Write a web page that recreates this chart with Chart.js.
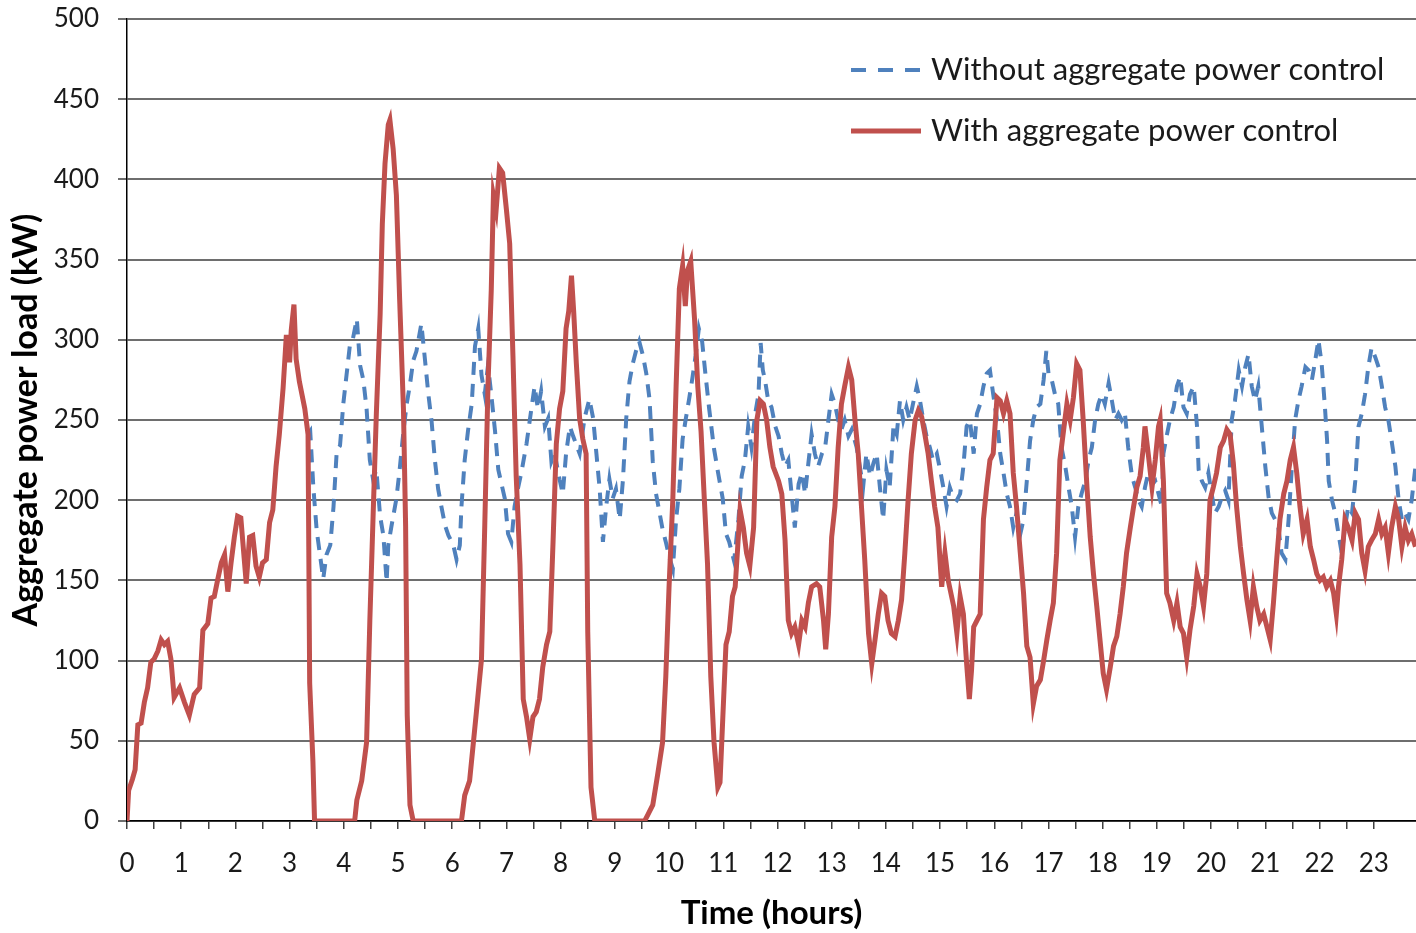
<!DOCTYPE html>
<html>
<head>
<meta charset="utf-8">
<script src="https://cdn.jsdelivr.net/npm/chart.js@4.4.1/dist/chart.umd.min.js"></script>
<style>
  html, body { margin: 0; padding: 0; background: #fff; }
  #wrap { width: 1416px; height: 933px; }
</style>
</head>
<body>
<div id="wrap"><canvas id="chart" width="1416" height="933"></canvas></div>
<script>
// ====================== DATA ======================
// [hour, kW]
const withControl = [
  [0,0],[0.03,19],[0.1,26],[0.15,32],[0.2,60],[0.26,61],[0.32,74],[0.38,83],[0.44,99],[0.5,101],[0.57,106],[0.63,113],[0.69,110],[0.75,112],[0.81,101],[0.87,77],[0.97,83],[1.06,74],[1.15,66],[1.24,79],[1.34,83],[1.4,119],[1.49,123],[1.55,139],[1.61,140],[1.67,150],[1.74,161],[1.8,166],[1.86,143],[1.92,161],[1.98,177],[2.04,190],[2.1,189],[2.2,148],[2.26,177],[2.32,178],[2.38,159],[2.44,152],[2.5,161],[2.57,163],[2.63,186],[2.69,194],[2.75,221],[2.81,241],[2.88,270],[2.94,303],[3.0,286],[3.03,306],[3.08,322],[3.12,288],[3.18,274],[3.28,257],[3.34,241],[3.37,86],[3.43,37],[3.46,0],
  [4.2,0],[4.24,13],[4.33,25],[4.42,49],[4.48,125],[4.54,190],[4.6,254],[4.67,316],[4.71,372],[4.76,410],[4.82,434],[4.85,437],[4.91,419],[4.97,390],[5.03,325],[5.1,257],[5.14,184],[5.17,66],[5.22,10],[5.28,0],
  [6.17,0],[6.23,16],[6.32,25],[6.44,66],[6.54,101],[6.6,184],[6.66,272],[6.72,331],[6.76,390],[6.81,381],[6.87,407],[6.93,404],[7.0,381],[7.06,360],
  [7.12,290],[7.18,215],[7.25,160],[7.31,76],[7.37,65],[7.43,51],[7.49,65],[7.55,68],[7.61,76],[7.67,96],[7.74,110],[7.8,118],[7.86,174],[7.92,235],[7.98,257],[8.04,268],[8.1,307],[8.15,318],[8.2,340],[8.24,318],[8.29,285],[8.35,251],[8.41,238],[8.47,229],[8.5,118],[8.56,21],[8.63,0],
  [9.55,0],[9.61,4],[9.7,10],[9.79,29],[9.88,49],[9.94,90],[10.0,146],[10.07,201],[10.13,271],[10.19,332],[10.25,346],[10.3,321],[10.34,343],[10.4,349],[10.47,313],[10.53,271],[10.59,243],[10.65,201],[10.71,160],[10.77,90],[10.83,49],[10.9,21],[10.94,24],[10.99,63],[11.05,110],[11.11,118],[11.17,140],
  [11.22,146],[11.31,194],[11.37,183],[11.43,167],[11.49,159],[11.56,183],[11.62,250],[11.68,262],[11.74,260],[11.8,250],[11.86,233],[11.92,221],[12.02,212],[12.08,204],[12.14,175],[12.2,125],[12.26,117],[12.32,121],[12.39,110],[12.45,125],[12.51,121],[12.57,136],[12.63,146],[12.72,148],[12.78,146],[12.85,125],[12.89,107],[12.94,129],[13.0,177],[13.06,196],[13.12,233],[13.18,260],[13.24,271],[13.31,283],[13.37,275],[13.43,250],[13.49,229],[13.55,196],[13.61,163],[13.68,117],[13.74,98],[13.8,113],[13.86,129],[13.92,142],[13.98,140],[14.04,125],[14.1,117],[14.17,115],[14.23,125],[14.29,138],[14.35,167],[14.41,200],[14.47,229],[14.54,250],[14.6,256],[14.66,252],[14.72,241],[14.78,229],[14.84,212],[14.9,196],[14.96,183],[15.03,146],[15.09,167],[15.15,150],
  [15.25,134],[15.31,117],[15.37,140],[15.43,129],[15.49,98],[15.54,76],[15.58,94],[15.62,121],[15.68,125],[15.74,129],[15.8,188],[15.86,208],[15.92,225],[15.98,229],[16.05,264],[16.11,262],[16.17,254],[16.23,262],[16.29,254],[16.35,217],[16.41,196],[16.48,167],[16.54,142],[16.6,109],[16.66,102],[16.72,73],[16.78,84],[16.85,88],[16.91,100],[16.97,113],[17.03,125],[17.09,136],[17.15,167],[17.21,225],[17.28,244],[17.34,260],[17.4,250],[17.46,264],[17.52,285],[17.58,281],[17.64,250],[17.71,208],[17.77,177],[17.83,154],[17.89,134],[17.95,113],[18.01,92],[18.07,82],[18.14,96],[18.2,109],[18.26,115],[18.32,129],[18.38,146],[18.44,167],[18.51,183],[18.57,196],[18.63,208],[18.69,215],[18.75,233],[18.78,246],[18.84,229],[18.91,208],[18.97,225],[19.03,246],[19.06,250],[19.12,212],
  [19.18,142],[19.24,136],[19.31,125],[19.37,136],[19.43,121],[19.49,117],[19.55,102],[19.61,119],[19.68,134],[19.74,154],[19.8,146],[19.86,134],[19.92,154],[19.98,200],[20.04,208],[20.1,217],[20.17,233],[20.23,237],[20.29,244],[20.35,241],[20.41,223],[20.47,196],[20.54,171],[20.6,154],[20.66,138],[20.72,125],[20.78,146],[20.84,134],[20.9,125],[20.97,129],[21.03,121],[21.09,113],[21.15,136],[21.21,163],[21.27,188],[21.34,204],[21.4,212],[21.46,225],[21.52,233],[21.58,217],[21.64,196],[21.7,179],[21.77,188],[21.83,171],[21.89,163],[21.95,154],[22.01,150],[22.07,152],[22.13,146],[22.2,150],[22.26,142],[22.31,129],[22.35,146],[22.41,163],[22.47,188],[22.53,183],[22.6,175],[22.66,192],[22.72,188],[22.78,167],[22.84,156],[22.9,171],[22.96,175],[23.03,179],[23.09,188],[23.15,179],[23.21,183],[23.27,167],[23.33,183],[23.4,196],[23.46,188],[23.52,171],[23.58,183],[23.64,175],[23.7,179],[23.77,171]
];

// before ~3.3 h both curves coincide (hidden under the red one)
const withoutControl = [
  [3.34,241],[3.38,243],[3.44,207],[3.5,181],[3.56,166],[3.62,151],[3.68,166],[3.75,172],[3.81,196],[3.87,231],[3.93,234],[3.99,260],[4.05,278],[4.11,296],[4.17,301],[4.24,313],[4.3,284],[4.36,275],[4.42,257],[4.48,225],[4.54,213],[4.6,219],[4.67,190],[4.73,178],[4.79,149],[4.82,172],[4.88,184],[4.97,201],[5.03,219],[5.1,243],[5.16,260],[5.22,272],[5.28,287],[5.34,293],[5.43,310],[5.49,290],[5.56,266],[5.62,249],[5.68,225],[5.74,207],[5.8,196],[5.87,184],[5.93,178],[6.02,172],[6.08,163],[6.14,172],[6.17,196],[6.23,225],[6.29,243],[6.36,260],[6.42,296],[6.48,307],[6.54,278],[6.6,266],[6.66,284],[6.72,266],[6.79,243],[6.85,219],
  [6.97,201],[7.03,179],[7.09,174],[7.15,196],[7.21,207],[7.28,218],[7.37,235],[7.46,257],[7.52,271],[7.58,257],[7.64,268],[7.71,246],[7.77,251],[7.83,224],[7.89,229],[7.98,213],[8.04,204],[8.1,229],[8.17,246],[8.23,240],[8.35,229],[8.44,251],[8.53,263],[8.6,251],[8.66,229],[8.72,207],[8.78,174],[8.84,196],[8.9,213],[8.96,201],[9.02,207],[9.09,188],[9.15,213],[9.21,251],[9.27,274],[9.33,285],[9.39,293],[9.45,299],[9.52,290],[9.58,279],[9.64,263],[9.7,224],[9.76,204],[9.82,193],[9.88,182],[9.94,174],[10.0,165],[10.07,157],[10.13,188],[10.19,207],[10.25,238],[10.31,251],[10.37,263],[10.43,276],[10.49,290],[10.55,307],[10.61,299],[10.67,279],[10.74,257],[10.83,232],[10.9,218],[10.99,201],[11.05,179],[11.11,174],[11.2,162],
  [11.28,188],[11.34,215],[11.4,225],[11.46,246],[11.52,233],[11.59,254],[11.65,266],[11.69,298],[11.73,281],[11.77,275],[11.83,262],[11.89,258],[11.96,246],[12.02,240],[12.08,229],[12.14,221],[12.2,225],[12.26,204],[12.32,183],[12.39,210],[12.45,217],[12.51,204],[12.57,223],[12.63,241],[12.69,229],[12.75,221],[12.82,229],[12.88,233],[12.94,250],[13.0,266],[13.06,260],[13.12,250],[13.18,244],[13.24,250],[13.31,240],[13.37,244],[13.46,233],[13.52,221],[13.58,208],[13.64,229],[13.71,215],[13.77,223],[13.83,229],[13.89,208],[13.95,188],[14.01,219],[14.07,208],[14.14,246],[14.2,241],[14.26,262],[14.32,250],[14.38,258],[14.44,250],[14.5,260],[14.57,271],[14.63,262],[14.69,250],[14.75,240],[14.81,233],[14.87,225],[14.94,229],[15.0,219],[15.06,208],[15.12,196],[15.18,208],[15.24,202],
  [15.31,200],[15.37,204],[15.43,221],[15.49,246],[15.55,250],[15.62,229],[15.68,254],[15.74,260],[15.8,271],[15.86,279],[15.92,281],[15.98,266],[16.05,250],[16.11,229],[16.17,217],[16.23,204],[16.29,196],[16.35,183],[16.41,192],[16.48,179],[16.54,188],[16.6,212],[16.66,237],[16.72,250],[16.78,258],[16.85,260],[16.91,275],[16.96,293],[17.0,279],[17.06,275],[17.12,266],[17.18,260],[17.24,233],[17.31,221],[17.37,208],[17.43,196],[17.49,177],[17.55,196],[17.61,204],[17.68,212],[17.74,225],[17.8,233],[17.86,250],[17.92,260],[17.98,266],[18.04,260],[18.11,273],[18.17,262],[18.23,250],[18.29,254],[18.35,250],[18.41,254],[18.47,233],[18.54,215],[18.6,208],[18.66,200],[18.72,196],[18.78,208],[18.84,217],[18.91,210],[18.97,212],[19.03,204],[19.09,196],
  [19.12,229],[19.18,240],[19.24,250],[19.31,258],[19.37,271],[19.43,277],[19.49,258],[19.55,254],[19.61,266],[19.68,271],[19.74,246],[19.77,219],[19.83,212],[19.89,208],[19.95,217],[20.01,204],[20.07,192],[20.14,196],[20.2,202],[20.26,206],[20.32,200],[20.38,250],[20.44,262],[20.51,281],[20.57,271],[20.63,283],[20.69,291],[20.75,271],[20.81,262],[20.87,271],[20.94,244],[21.0,221],[21.06,202],[21.12,192],[21.18,188],[21.24,183],[21.3,167],[21.37,163],[21.43,188],[21.49,221],[21.55,250],[21.61,262],[21.67,271],[21.74,283],[21.8,281],[21.86,275],[21.92,287],[21.98,300],[22.04,285],[22.1,258],[22.14,237],[22.17,212],[22.23,200],[22.29,192],[22.35,179],[22.41,167],[22.47,183],[22.53,196],[22.6,192],[22.66,212],[22.72,246],[22.78,254],[22.84,266],[22.9,283],[22.96,295],[23.03,289],[23.09,283],[23.15,271],[23.21,258],[23.27,250],[23.33,237],[23.4,221],[23.46,200],[23.52,188],[23.58,192],[23.64,188],[23.7,200],[23.77,221]
];

const seriesLabels = ['With aggregate power control', 'Without aggregate power control'];
const hourRange = [0, 23.78];
const loadRange = [0, 500];

// ====================== CHART ======================
const FONT = 'Lato, "Noto Sans", sans-serif';
const RED = '#c0504d';
const BLUE = '#4f81bd';

const toPoints = arr => arr.map(p => ({ x: p[0], y: p[1] }));

// legend drawn inside the plot, top right, like the original
const insideLegend = {
  id: 'insideLegend',
  afterDraw(chart) {
    const { ctx, chartArea } = chart;
    const x0 = chartArea.left + 724;
    const rows = [1, 0];
    ctx.save();
    ctx.font = '31px ' + FONT;
    ctx.textBaseline = 'middle';
    ctx.fillStyle = '#1a1a1a';
    rows.forEach((di, i) => {
      const ds = chart.data.datasets[di];
      const y = chartArea.top + 51 + i * 61;
      ctx.beginPath();
      ctx.strokeStyle = ds.borderColor;
      ctx.lineWidth = ds.borderWidth;
      ctx.setLineDash(ds.borderDash ? [15, 12] : []);
      ctx.moveTo(x0, y);
      ctx.lineTo(x0 + 70, y);
      ctx.stroke();
      ctx.setLineDash([]);
      ctx.fillText(ds.label, x0 + 80, y);
    });
    ctx.restore();
  }
};

new Chart(document.getElementById('chart'), {
  type: 'line',
  data: {
    datasets: [
      {
        label: seriesLabels[0],
        data: toPoints(withControl),
        borderColor: RED,
        borderWidth: 5,
        pointRadius: 0,
        tension: 0,
        order: 0
      },
      {
        label: seriesLabels[1],
        data: toPoints(withoutControl),
        borderColor: BLUE,
        borderWidth: 4,
        borderDash: [13, 9],
        pointRadius: 0,
        tension: 0,
        order: 1
      }
    ]
  },
  options: {
    responsive: false,
    devicePixelRatio: 1,
    animation: false,
    layout: { padding: { top: 19, right: 0, left: 0, bottom: 0 } },
    plugins: { legend: { display: false }, tooltip: { enabled: false } },
    scales: {
      x: {
        type: 'linear',
        min: hourRange[0],
        max: hourRange[1],
        afterBuildTicks: s => {
          s.ticks = s.ticks.filter(t => Math.abs(t.value * 2 - Math.round(t.value * 2)) < 1e-6);
        },
        afterFit: s => { s.height = 112; s.paddingLeft = 0; s.paddingRight = 0; },
        ticks: {
          stepSize: 0.5,
          autoSkip: false,
          maxRotation: 0,
          padding: 19,
          color: '#1a1a1a',
          font: { family: FONT, size: 26 },
          callback: v => Number.isInteger(v) ? String(v) : ''
        },
        grid: { drawOnChartArea: false, color: '#404040', lineWidth: 1.5, tickLength: 8 },
        border: { color: '#000', width: 1.5 },
        title: {
          display: true,
          text: 'Time (hours)',
          color: '#000',
          font: { family: FONT, size: 33, weight: 'bold' },
          padding: { top: 0, bottom: 0 }
        }
      },
      y: {
        min: loadRange[0],
        max: loadRange[1],
        afterFit: s => { s.width = 127; s.paddingTop = 0; s.paddingBottom = 0; },
        ticks: {
          stepSize: 50,
          padding: 19,
          color: '#1a1a1a',
          font: { family: FONT, size: 26 }
        },
        grid: { color: '#6e6e6e', lineWidth: 2, tickLength: 9 },
        border: { color: '#000', width: 1.5 },
        title: {
          display: true,
          text: 'Aggregate power load (kW)',
          color: '#000',
          font: { family: FONT, size: 34, weight: 'bold' },
          padding: { top: 6, bottom: 0 }
        }
      }
    }
  },
  plugins: [insideLegend]
});
</script>
</body>
</html>
